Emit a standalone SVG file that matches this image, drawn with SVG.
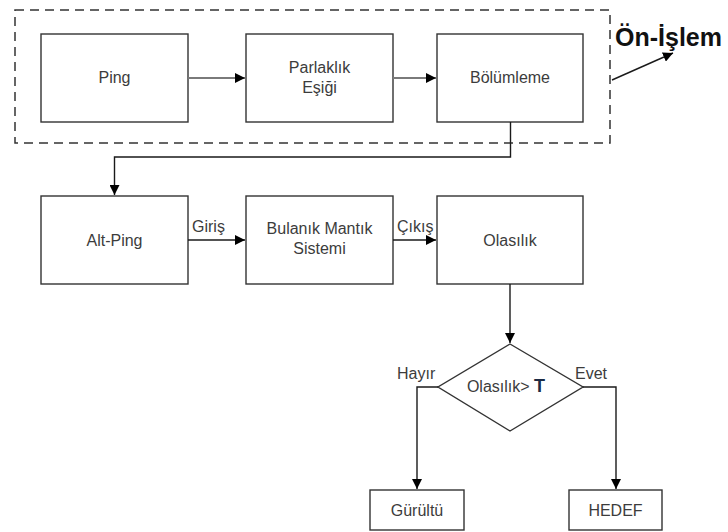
<svg xmlns="http://www.w3.org/2000/svg" width="728" height="532" viewBox="0 0 728 532">
  <style>
    .box { fill: #ffffff; stroke: #333333; stroke-width: 1.4; }
    .lbl { font-family: "Liberation Sans", Arial, sans-serif; font-size: 16px; fill: #3c3c3c; text-anchor: middle; }
    .edge { font-family: "Liberation Sans", Arial, sans-serif; font-size: 16px; fill: #3c3c3c; }
    .line { fill: none; stroke: #1a1a1a; stroke-width: 1.4; }
    .grey { fill: none; stroke: #7a7a7a; stroke-width: 2; }
    .title { font-family: "Liberation Sans", Arial, sans-serif; font-size: 25px; font-weight: bold; fill: #111111; }
  </style>
  <defs>
    <marker id="arrow" viewBox="0 0 10 10" refX="10" refY="5" markerWidth="10" markerHeight="10" markerUnits="userSpaceOnUse" orient="auto">
      <path d="M0,0 L10,5 L0,10 z" fill="#000000"/>
    </marker>
  </defs>
  <rect width="728" height="532" fill="#ffffff"/>

  <!-- pre-processing group frame -->
  <g id="preprocess">
    <rect x="15" y="10" width="595" height="133" fill="none" stroke="#333333" stroke-width="1.5" stroke-dasharray="9 6"/>
    <text class="title" x="615" y="46">Ön-İşlem</text>
  </g>

  <g id="ping">
    <rect class="box" x="41" y="34" width="147" height="88"/>
    <text class="lbl" x="114.5" y="83">Ping</text>
  </g>
  <g id="parlaklik">
    <rect class="box" x="246" y="34" width="147" height="88"/>
    <text class="lbl" x="319.5" y="73">Parlaklık</text>
    <text class="lbl" x="319.5" y="93">Eşiği</text>
  </g>
  <g id="bolumleme">
    <rect class="box" x="437" y="34" width="146" height="88"/>
    <text class="lbl" x="510" y="83">Bölümleme</text>
  </g>
  <g id="altping">
    <rect class="box" x="41" y="196" width="147" height="88"/>
    <text class="lbl" x="114.5" y="246">Alt-Ping</text>
  </g>
  <g id="bulanik">
    <rect class="box" x="246" y="196" width="147" height="88"/>
    <text class="lbl" x="319.5" y="234">Bulanık Mantık</text>
    <text class="lbl" x="319.5" y="254">Sistemi</text>
  </g>
  <g id="olasilik">
    <rect class="box" x="437" y="196" width="146" height="88"/>
    <text class="lbl" x="510" y="246">Olasılık</text>
  </g>
  <g id="karar">
    <polygon class="box" points="510,344 583,387 510,431 438,387"/>
    <text class="lbl" x="506" y="392">Olasılık&gt; <tspan font-weight="bold" font-size="18px" fill="#1c2a44">T</tspan></text>
  </g>
  <g id="gurultu">
    <rect class="box" x="370" y="490" width="94" height="40"/>
    <text class="lbl" x="417" y="516">Gürültü</text>
  </g>
  <g id="hedef">
    <rect class="box" x="569" y="490" width="93" height="40"/>
    <text class="lbl" x="615.5" y="516">HEDEF</text>
  </g>

  <g id="connectors">
    <line class="grey" x1="188" y1="78" x2="245" y2="78" marker-end="url(#arrow)"/>
    <line class="grey" x1="393" y1="78" x2="436" y2="78" marker-end="url(#arrow)"/>
    <line class="line" x1="612" y1="80" x2="673" y2="53" marker-end="url(#arrow)"/>
    <polyline class="line" points="510.5,122 510.5,157 114.5,157 114.5,195" marker-end="url(#arrow)"/>
    <line class="line" x1="188" y1="240" x2="245" y2="240" marker-end="url(#arrow)"/>
    <line class="line" x1="393" y1="240" x2="436" y2="240" marker-end="url(#arrow)"/>
    <line class="line" x1="510" y1="284" x2="510" y2="343" marker-end="url(#arrow)"/>
    <polyline class="line" points="438,387 417,387 417,489" marker-end="url(#arrow)"/>
    <polyline class="line" points="583,387 616,387 616,489" marker-end="url(#arrow)"/>
    <text class="edge" x="192" y="232">Giriş</text>
    <text class="edge" x="397" y="232">Çıkış</text>
    <text class="edge" x="397" y="379">Hayır</text>
    <text class="edge" x="575" y="379">Evet</text>
  </g>
</svg>
